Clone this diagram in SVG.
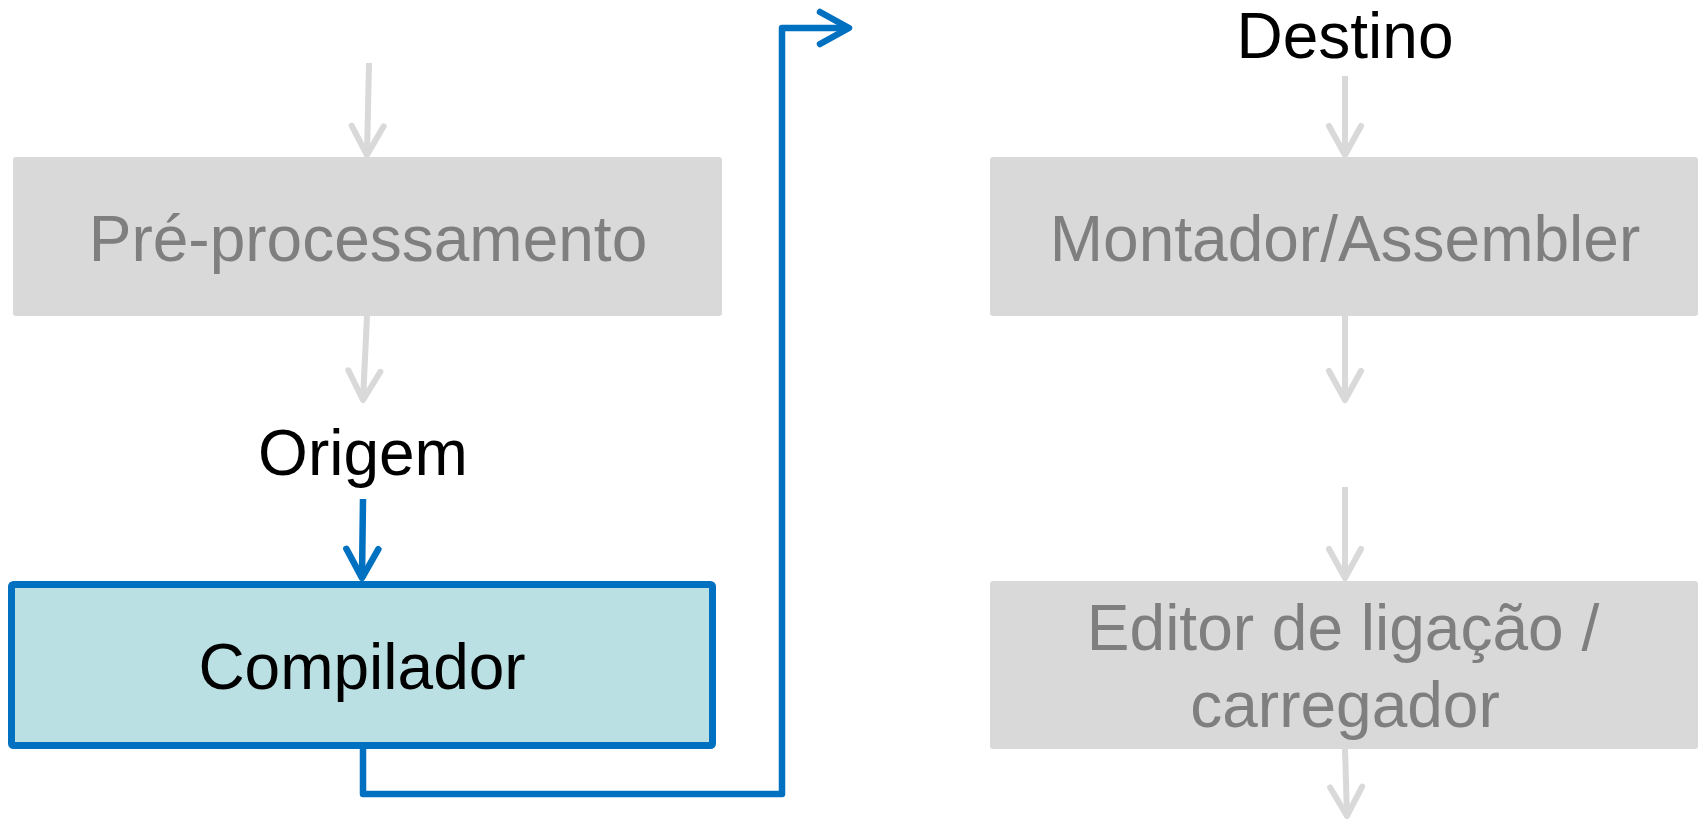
<svg xmlns="http://www.w3.org/2000/svg" width="1700" height="821" viewBox="0 0 1700 821">
  <style>
    .lbl { font-family: "Liberation Sans", Arial, sans-serif; font-size: 64px; text-anchor: middle; }
    .dim { fill: #7f7f7f; }
    .ink { fill: #000000; }
    .box-dim { fill: #d9d9d9; }
    .box-on { fill: #bbe0e3; stroke: #0070c0; stroke-width: 7; }
    .wire-dim { fill: none; stroke: #d9d9d9; stroke-width: 6; }
    .wire-on { fill: none; stroke: #0070c0; stroke-width: 6.5; }
  </style>
  <defs>
    <marker id="head-dim" markerUnits="userSpaceOnUse" orient="auto" markerWidth="60" markerHeight="60" refX="0" refY="0" viewBox="-40 -30 60 60" overflow="visible">
      <path d="M -29 -16 L 0 0 L -29 16" fill="none" stroke="#d9d9d9" stroke-width="6" stroke-linecap="round" stroke-linejoin="round"/>
    </marker>
    <marker id="head-on" markerUnits="userSpaceOnUse" orient="auto" markerWidth="60" markerHeight="60" refX="0" refY="0" viewBox="-40 -30 60 60" overflow="visible">
      <path d="M -29 -16 L 0 0 L -29 16" fill="none" stroke="#0070c0" stroke-width="6.5" stroke-linecap="round" stroke-linejoin="round"/>
    </marker>
  </defs>

  <rect width="1700" height="821" fill="#ffffff"/>

  <!-- connectors -->
  <g id="connectors">
    <path class="wire-dim" d="M 369 63 L 367 155" marker-end="url(#head-dim)"/>
    <path class="wire-dim" d="M 367 316 L 363 400" marker-end="url(#head-dim)"/>
    <path class="wire-on" d="M 363 499 L 362 578" marker-end="url(#head-on)"/>
    <path class="wire-on" d="M 363 749 V 794 H 782 V 28 H 849" stroke-linejoin="round" marker-end="url(#head-on)"/>
    <path class="wire-dim" d="M 1345 76 L 1345 155" marker-end="url(#head-dim)"/>
    <path class="wire-dim" d="M 1345 316 L 1345 400" marker-end="url(#head-dim)"/>
    <path class="wire-dim" d="M 1345 487 L 1345 578" marker-end="url(#head-dim)"/>
    <path class="wire-dim" d="M 1345 749 L 1347 816" marker-end="url(#head-dim)"/>
  </g>

  <!-- free labels -->
  <g id="label-origem">
    <text class="lbl ink" x="363" y="475">Origem</text>
  </g>
  <g id="label-destino">
    <text class="lbl ink" x="1345" y="58">Destino</text>
  </g>

  <!-- stages -->
  <g id="node-preprocessamento">
    <rect class="box-dim" x="13" y="157" width="709" height="159" rx="3"/>
    <text class="lbl dim" x="368" y="261">Pré-processamento</text>
  </g>
  <g id="node-compilador">
    <rect class="box-on" x="11.5" y="584.5" width="701" height="161" rx="2"/>
    <text class="lbl ink" x="362" y="689">Compilador</text>
  </g>
  <g id="node-montador">
    <rect class="box-dim" x="990" y="157" width="708" height="159" rx="3"/>
    <text class="lbl dim" x="1345" y="261">Montador/Assembler</text>
  </g>
  <g id="node-editor">
    <rect class="box-dim" x="990" y="581" width="708" height="168" rx="3"/>
    <text class="lbl dim" x="1343" y="650">Editor de ligação /</text>
    <text class="lbl dim" x="1345" y="727">carregador</text>
  </g>
</svg>
